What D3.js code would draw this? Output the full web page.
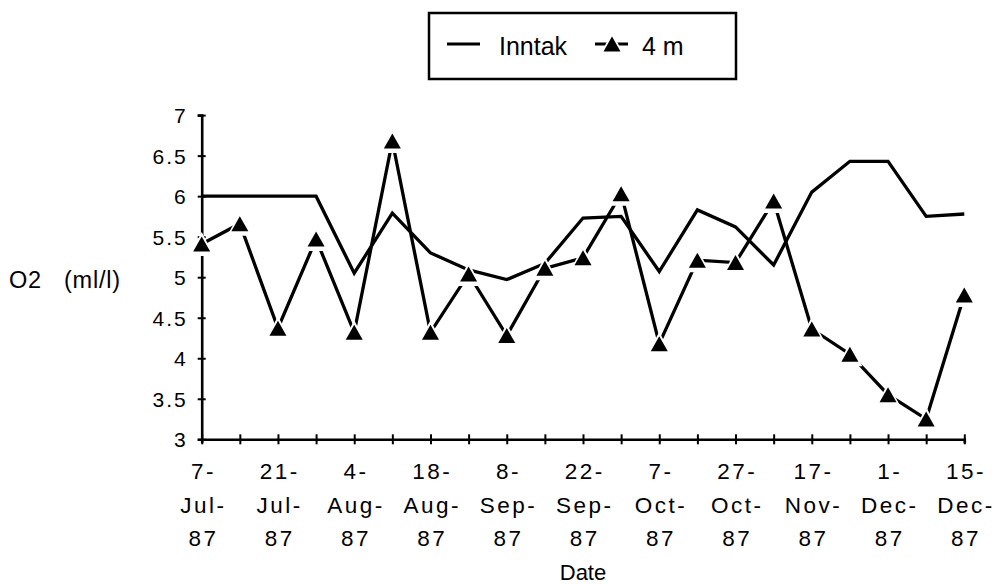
<!DOCTYPE html>
<html>
<head>
<meta charset="utf-8">
<script src="https://cdn.jsdelivr.net/npm/d3@7/dist/d3.min.js"></script>
<style>
  body { margin: 0; background: #fff; }
  svg { display: block; font-family: "Liberation Sans", Arial, Helvetica, sans-serif; }
</style>
</head>
<body>
<svg id="chart" width="995" height="585"></svg>
<script>
// Sampling dates, labelled every other sample along the x axis
const tickLabels = ["7-Jul-87", "21-Jul-87", "4-Aug-87", "18-Aug-87", "8-Sep-87",
  "22-Sep-87", "7-Oct-87", "27-Oct-87", "17-Nov-87", "1-Dec-87", "15-Dec-87"];
const sampleCount = 21;

// Dissolved oxygen (ml/l)
const inntak = [6.0, 6.0, 6.0, 6.0, 5.05, 5.79, 5.30, 5.09, 4.97, 5.17, 5.73,
  5.75, 5.07, 5.83, 5.62, 5.15, 6.05, 6.43, 6.43, 5.75, 5.78];
const depth4m = [5.41, 5.66, 4.37, 5.47, 4.32, 6.68, 4.32, 5.04, 4.28, 5.11, 5.24,
  6.03, 4.18, 5.21, 5.18, 5.94, 4.36, 4.05, 3.55, 3.25, 4.78];

const yTicks = [3, 3.5, 4, 4.5, 5, 5.5, 6, 6.5, 7];

const svg = d3.select("#chart");

const x = d3.scalePoint().domain(d3.range(sampleCount)).range([201.7, 964.3]);
const y = d3.scaleLinear().domain([3, 7]).range([439.3, 115.1]);

// ---- axes ----
const yAxis = d3.axisLeft(y).tickValues(yTicks).tickSize(4).tickFormat(d => String(d));
const gy = svg.append("g").attr("transform", `translate(${x(0)},0)`).call(yAxis);
gy.select(".domain").attr("stroke", "#000").attr("stroke-width", 2.6);
gy.selectAll(".tick line").attr("x1", -4).attr("x2", 4).attr("stroke", "#000").attr("stroke-width", 2);
gy.selectAll(".tick text")
  .attr("x", -14).attr("dy", "0.36em")
  .style("font-size", "21px").style("letter-spacing", "2px")
  .attr("fill", "#000");

const xAxis = d3.axisBottom(x).tickSize(4).tickFormat(() => "");
const gx = svg.append("g").attr("transform", `translate(0,${y(3)})`).call(xAxis);
gx.select(".domain").attr("stroke", "#000").attr("stroke-width", 2.6);
gx.selectAll(".tick line").attr("y1", -5).attr("y2", 5).attr("stroke", "#000").attr("stroke-width", 2);

// three-line date labels under every other tick
gx.selectAll(".tick").each(function (d) {
  if (d % 2 !== 0) return;
  const label = tickLabels[d / 2];
  const parts = label.match(/^(\d+-)([A-Za-z]+-)(\d+)$/).slice(1);
  const t = d3.select(this).select("text")
    .attr("y", 0).attr("dy", null)
    .style("font-size", "22.5px").style("letter-spacing", "2.5px")
    .attr("fill", "#000");
  parts.forEach((p, i) => {
    t.append("tspan").attr("x", 1.2).attr("y", 40 + i * 33.5).text(p);
  });
});

// axis titles
svg.append("text").attr("x", 583).attr("y", 580)
  .attr("text-anchor", "middle").style("font-size", "22px").text("Date");
svg.append("text").attr("x", 9).attr("y", 288)
  .style("font-size", "23.5px").style("letter-spacing", "0.8px")
  .attr("xml:space", "preserve").text("O2   (ml/l)");

// ---- series ----
const line = d3.line().x((d, i) => x(i)).y(d => y(d));

svg.append("path").datum(inntak)
  .attr("d", line).attr("fill", "none")
  .attr("stroke", "#000").attr("stroke-width", 3.3).attr("stroke-linejoin", "miter");

svg.append("path").datum(depth4m)
  .attr("d", line).attr("fill", "none")
  .attr("stroke", "#000").attr("stroke-width", 3.3).attr("stroke-linejoin", "miter");

// triangle markers with a white halo that breaks the line near each point
const tri = (w, h) => `M0,${-h / 2}L${w / 2},${h / 2}L${-w / 2},${h / 2}Z`;
const markers = svg.append("g").selectAll("g").data(depth4m).join("g")
  .attr("transform", (d, i) => `translate(${x(i)},${y(d)})`);
markers.append("path").attr("d", tri(25, 24)).attr("fill", "#fff");
markers.append("path").attr("d", tri(17, 15)).attr("fill", "#000");

// ---- legend ----
const lg = svg.append("g");
lg.append("rect").attr("x", 429).attr("y", 13).attr("width", 307).attr("height", 66)
  .attr("fill", "#fff").attr("stroke", "#000").attr("stroke-width", 2.5);
lg.append("line").attr("x1", 447).attr("x2", 480).attr("y1", 44).attr("y2", 44)
  .attr("stroke", "#000").attr("stroke-width", 3);
lg.append("text").attr("x", 499).attr("y", 55).style("font-size", "25px").text("Inntak");
lg.append("line").attr("x1", 595).attr("x2", 628).attr("y1", 44).attr("y2", 44)
  .attr("stroke", "#000").attr("stroke-width", 3);
lg.append("path").attr("transform", "translate(612,44)").attr("d", tri(25, 24)).attr("fill", "#fff");
lg.append("path").attr("transform", "translate(612,44)").attr("d", tri(17, 15)).attr("fill", "#000");
lg.append("text").attr("x", 642).attr("y", 55).style("font-size", "25px")
  .attr("xml:space", "preserve").text("4 m");
</script>
</body>
</html>
